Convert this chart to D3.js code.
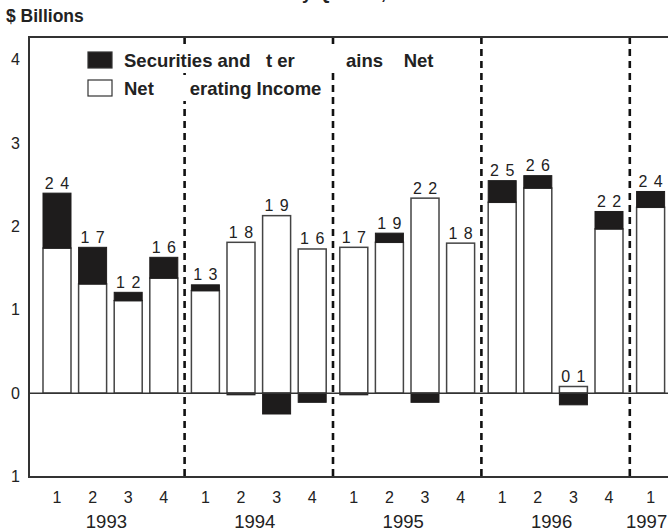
<!DOCTYPE html>
<html lang="en">
    <head>
        <meta charset="UTF-8">
        <title>Quarterly Net Income</title>
        <script src="https://d3js.org/d3.v7.min.js"></script>
        <style>
            body { margin: 0; background: #fff; }
            svg text { font-family: "Liberation Sans", Arial, sans-serif; fill: #222; }
            .pre { white-space: pre; }
        </style>
    </head>

    <body>
        <script>
            // one entry per bar, 1993 Q1 .. 1997 Q1
            const years = ["1993", "1993", "1993", "1993", "1994", "1994", "1994", "1994",
                           "1995", "1995", "1995", "1995", "1996", "1996", "1996", "1996", "1997"];
            const quarters = ["1", "2", "3", "4", "1", "2", "3", "4",
                              "1", "2", "3", "4", "1", "2", "3", "4", "1"];
            const operatingIncome = [1.74, 1.31, 1.11, 1.38, 1.23, 1.81, 2.13, 1.73,
                                     1.75, 1.81, 2.34, 1.80, 2.29, 2.46, 0.08, 1.97, 2.23];
            const securitiesGains = [0.66, 0.44, 0.10, 0.25, 0.07, -0.02, -0.25, -0.11,
                                     -0.02, 0.11, -0.11, 0.00, 0.26, 0.15, -0.14, 0.21, 0.19];
            const totalLabels = ["2 4", "1 7", "1 2", "1 6", "1 3", "1 8", "1 9", "1 6",
                                 "1 7", "1 9", "2 2", "1 8", "2 5", "2 6", "0 1", "2 2", "2 4"];

            const yearList = ["1993", "1994", "1995", "1996", "1997"];
            const quarterList = ["1", "2", "3", "4"];
            const yTicks = [4, 3, 2, 1, 0, -1];
            const yTickLabels = ["4", "3", "2", "1", "0", "1"];

            const legendLabels = ["Securities and   t er          ains    Net", "Net       erating Income"];
            const titleText = "Net Income by Quarter, 1993\u20131997";

            class IncomeChart {
                constructor() {
                    this.width = 668;
                    this.height = 531;

                    this.frame = { left: 29, top: 37, right: 720, bottom: 477 };

                    this.$svg = d3.select("body").append("svg")
                        .attr("width", this.width)
                        .attr("height", this.height);

                    this.data = years.map((y, i) => ({
                        year: y,
                        quarter: quarters[i],
                        noi: operatingIncome[i],
                        sec: securitiesGains[i],
                        label: totalLabels[i]
                    }));
                }

                plot() {
                    this.y = d3.scaleLinear()
                        .domain([-1, 4])
                        .range([476.5, 59.8]);

                    // years as outer bands, quarters nested inside
                    this.x0 = d3.scaleBand()
                        .domain(yearList)
                        .range([39.2, 39.2 + 5 * 148.4 - 6])
                        .paddingInner(6 / 148.4)
                        .paddingOuter(0);

                    this.x1 = d3.scaleBand()
                        .domain(quarterList)
                        .range([0, this.x0.bandwidth()])
                        .paddingInner(0.2135)
                        .paddingOuter(0.1067);

                    this.plotTitle();
                    this.plotDividers();
                    this.plotBars();
                    this.plotFrame();
                    this.plotAxis();
                    this.plotLegend();
                }

                bx(d) {
                    return this.x0(d.year) + this.x1(d.quarter);
                }

                plotTitle() {
                    // the title sits above the top edge, only its descenders show
                    this.$svg.append("text")
                        .attr("x", 189)
                        .attr("y", -1)
                        .style("font-weight", "bold")
                        .style("font-size", "18px")
                        .text(titleText);

                    this.$svg.append("text")
                        .attr("x", 6)
                        .attr("y", 22)
                        .style("font-weight", "bold")
                        .style("font-size", "17.5px")
                        .text("$ Billions");
                }

                plotDividers() {
                    let self = this;
                    let gap = this.x0.step() - this.x0.bandwidth();

                    this.$svg.selectAll(".divider")
                        .data(yearList.slice(1))
                        .enter()
                            .append("line")
                            .classed("divider", true)
                            .attr("x1", d => self.x0(d) - gap / 2)
                            .attr("x2", d => self.x0(d) - gap / 2)
                            .attr("y1", this.frame.top)
                            .attr("y2", this.frame.bottom)
                            .attr("stroke", "#111")
                            .attr("stroke-width", 2.6)
                            .attr("stroke-dasharray", "7,5");
                }

                plotBars() {
                    let self = this;
                    let w = this.x1.bandwidth();
                    let y0 = this.y(0);

                    let $g = this.$svg.append("g");

                    $g.selectAll(".noi")
                        .data(this.data)
                        .enter()
                            .append("rect")
                            .classed("noi", true)
                            .attr("x", d => self.bx(d))
                            .attr("width", w)
                            .attr("y", d => self.y(d.noi))
                            .attr("height", d => y0 - self.y(d.noi))
                            .attr("fill", "#fff")
                            .attr("stroke", "#444")
                            .attr("stroke-width", 1.5);

                    $g.selectAll(".sec")
                        .data(this.data.filter(d => d.sec !== 0))
                        .enter()
                            .append("rect")
                            .classed("sec", true)
                            .attr("x", d => self.bx(d))
                            .attr("width", w)
                            .attr("y", d => d.sec > 0 ? self.y(d.noi + d.sec) : y0)
                            .attr("height", d => d.sec > 0
                                ? self.y(d.noi) - self.y(d.noi + d.sec)
                                : self.y(d.sec) - y0)
                            .attr("fill", "#1e1c1c")
                            .attr("stroke", "#1e1c1c")
                            .attr("stroke-width", 1);

                    $g.selectAll(".total")
                        .data(this.data)
                        .enter()
                            .append("text")
                            .classed("total pre", true)
                            .attr("x", d => self.bx(d) + w / 2 + 0.5)
                            .attr("y", d => self.y(d.noi + Math.max(d.sec, 0)) - 4.5)
                            .attr("text-anchor", "middle")
                            .style("font-size", "16px")
                            .style("letter-spacing", "1px")
                            .text(d => d.label);

                    // zero line
                    this.$svg.append("line")
                        .attr("x1", this.frame.left)
                        .attr("x2", this.frame.right)
                        .attr("y1", y0)
                        .attr("y2", y0)
                        .attr("stroke", "#333")
                        .attr("stroke-width", 1.5);
                }

                plotFrame() {
                    let f = this.frame;
                    this.$svg.append("path")
                        .attr("d", `M${f.right},${f.top}H${f.left}V${f.bottom}H${f.right}`)
                        .attr("fill", "none")
                        .attr("stroke", "#333")
                        .attr("stroke-width", 2);
                }

                plotAxis() {
                    let self = this;

                    this.yAxis = d3.axisLeft(this.y)
                        .tickValues(yTicks)
                        .tickSize(0)
                        .tickPadding(9)
                        .tickFormat((d, i) => yTickLabels[i]);

                    let $y = this.$svg.append("g")
                        .attr("transform", `translate(${this.frame.left},0)`)
                        .call(this.yAxis);
                    $y.select(".domain").remove();
                    $y.selectAll("text")
                        .style("font-size", "16px")
                        .style("font-family", null)
                        .attr("fill", null);

                    yearList.forEach(year => {
                        let qs = self.data.filter(d => d.year === year).map(d => d.quarter);

                        let $x = self.$svg.append("g")
                            .attr("transform", `translate(${self.x0(year)},${self.frame.bottom})`)
                            .call(d3.axisBottom(self.x1).tickValues(qs).tickSize(0).tickPadding(15));
                        $x.select(".domain").remove();
                        $x.selectAll("text")
                            .style("font-size", "16px")
                            .style("font-family", null)
                            .attr("fill", null);

                        let centre = d3.mean(qs, q => self.x1(q) + self.x1.bandwidth() / 2);
                        self.$svg.append("text")
                            .attr("x", self.x0(year) + centre - 4)
                            .attr("y", 528)
                            .attr("text-anchor", "middle")
                            .style("font-size", "18.5px")
                            .text(year);
                    });
                }

                plotLegend() {
                    let fills = ["#1e1c1c", "#fff"];
                    let $leg = this.$svg.selectAll(".legend")
                        .data(legendLabels)
                        .enter()
                            .append("g")
                            .classed("legend", true)
                            .attr("transform", (d, i) => `translate(88,${52 + i * 28})`);

                    // white backing so the dividers stop behind each row
                    let $bg = $leg.append("rect")
                        .attr("fill", "#fff");

                    $leg.append("rect")
                        .attr("width", 24)
                        .attr("height", 16)
                        .attr("fill", (d, i) => fills[i])
                        .attr("stroke", "#333")
                        .attr("stroke-width", 1.2);

                    let $txt = $leg.append("text")
                        .classed("pre", true)
                        .attr("x", 36)
                        .attr("y", 14.5)
                        .style("font-weight", "bold")
                        .style("font-size", "18.5px")
                        .text(d => d);

                    $bg.each(function(d, i) {
                        let bb = $txt.nodes()[i].getBBox();
                        d3.select(this)
                            .attr("x", -4)
                            .attr("y", -5)
                            .attr("width", bb.x + bb.width + 4)
                            .attr("height", 26);
                    });
                }
            }

            let chart = new IncomeChart();
            chart.plot();
        </script>
    </body>
</html>
